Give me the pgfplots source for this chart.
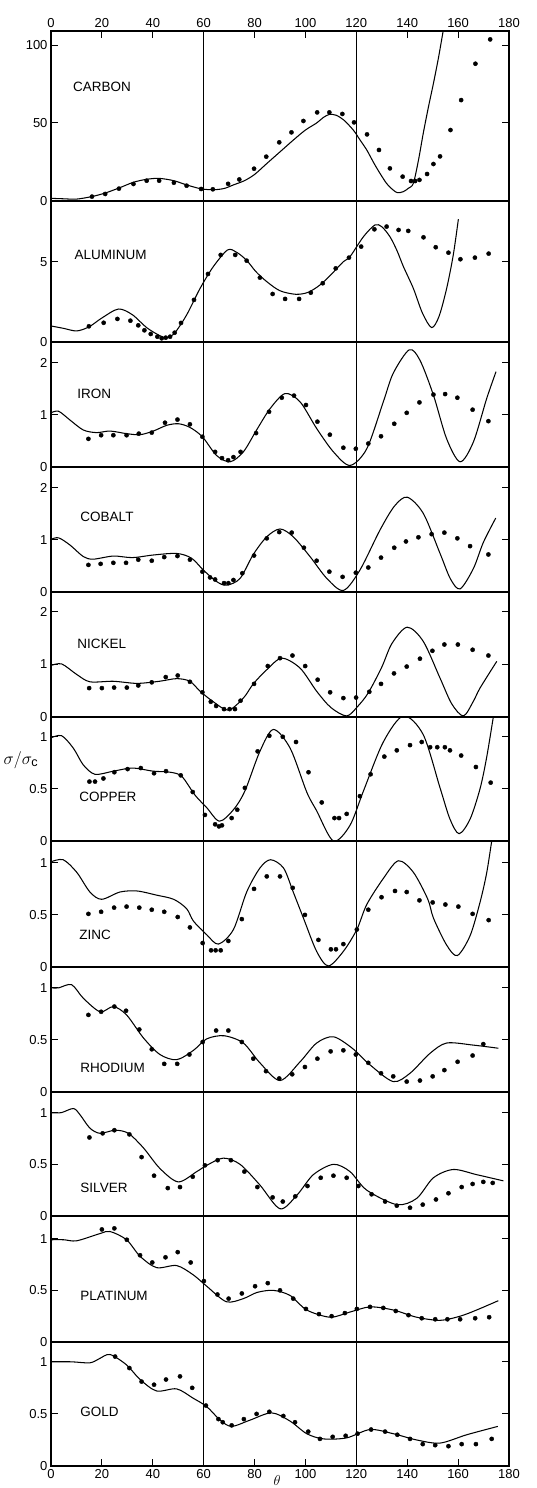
\documentclass[border=0pt]{standalone}
\usepackage{pgfplots}
\pgfplotsset{compat=1.18}
\usepackage{fontspec}
\setmainfont{Liberation Sans}
\begin{document}
\begin{tikzpicture}
\useasboundingbox (0pt,0pt) rectangle (537pt,1488pt);
\tikzset{lab/.style={anchor=west, font=\fontsize{13.5}{13.5}\selectfont}}
\pgfplotsset{
  panel/.style={
    width=458pt, scale only axis, xmin=0, xmax=180, ymin=0,
    anchor=south west,
    axis line style={line width=1.1pt},
    xtick=\empty,
    extra x ticks={60,120}, extra x tick labels={},
    extra x tick style={grid=major, major tick length=0pt},
    major grid style={black, line width=0.9pt},
    tick style={black, line width=1pt}, major tick length=7pt,
    yticklabel style={font=\fontsize{13}{13}\selectfont},
    xticklabel style={font=\fontsize{13}{13}\selectfont},
    /pgf/number format/assume math mode=true,
  },
  curve/.style={black, line width=1.05pt, smooth, tension=0.5, no marks},
  pts/.style={black, only marks, mark=*, mark size=2.1pt, mark options={fill=black}},
}
% ---------------- CARBON ----------------
\begin{axis}[panel, at={(51pt,1287pt)}, height=170pt, ymax=109,
  ytick={0,50,100}, yticklabels={0,50,100},
  xtick={0,20,...,180}, xtick pos=right, xticklabel pos=right]
\addplot[curve] coordinates {(0,1.7)(5,1.4)(10,1.2)(16,2.8)(21.3,5.1)(26.7,8.3)(32.4,12)(37.6,13.9)(42.5,14.5)(48.3,13)(53.3,10.3)(59,7.8)(63.8,7.2)(68,8)(71.7,10.3)(76,13)(80,17)(84.8,24)(90,31.5)(95.2,39)(100,45.5)(104.4,50)(107,53.5)(109.4,55.5)(112,55)(115,52)(118.8,45.5)(121.5,39)(124.1,32.7)(127,24)(129.3,17.7)(132,11)(134.5,7)(136.2,5.3)(138.5,6)(140.5,8.2)(142.4,11.3)(144.4,26)(146.3,43.4)(148.3,60)(150.3,75.4)(152.3,92)(154.2,109.6)(156,125)};
\addplot[pts] coordinates {(16.1,2.8)(21.3,4.5)(26.7,7.9)(32.4,10.9)(37.6,13)(42.5,13)(48.3,11.7)(53.3,9.8)(59,7.7)(63.6,7.5)(69.6,11)(74,13.8)(79.8,20.7)(84.6,28.4)(89.7,37.6)(94.5,44)(99.2,51.3)(104.6,56.8)(109.4,56.8)(114.5,55.8)(119.1,50.4)(124.2,42.7)(128.9,32.7)(133.2,20.9)(138.2,15.6)(141.5,12.8)(143.1,12.8)(144.8,13.5)(147.8,17.3)(150.3,23.7)(152.9,28.6)(157,45.5)(161.2,64.7)(166.8,88)(172.6,103.6)};
\node[lab] at (axis cs:7.3,73) {CARBON};
\end{axis}
% ---------------- ALUMINUM ----------------
\begin{axis}[panel, at={(51pt,1146pt)}, height=141pt, ymax=8.81,
  ytick={0,5}, yticklabels={0,5}]
\addplot[curve] coordinates {(0,1.0)(5,0.85)(10.1,0.69)(15,0.95)(20,1.5)(26.5,2.06)(32,1.7)(38,0.85)(44.8,0.27)(48.5,0.55)(53.3,1.69)(58.6,3.35)(63.8,4.71)(69.4,5.75)(73,5.6)(76.9,5.1)(80.5,4.4)(84.8,3.77)(90,3.2)(96.2,2.98)(101,3.1)(105.7,3.56)(110,4.2)(114.9,5.02)(117.5,5.33)(122.8,6.58)(127.3,7.31)(130,7.2)(133.2,6.58)(136,5.7)(138.5,4.71)(142.4,3.35)(146,1.8)(149.6,0.9)(152.5,1.6)(155.5,3.35)(158.1,5.44)(160.1,7.67)};
\addplot[pts] coordinates {(14.9,0.98)(20.7,1.2)(26.1,1.44)(31.2,1.33)(34.3,1.04)(36.7,0.73)(39.2,0.5)(41.8,0.33)(43.5,0.23)(45.1,0.27)(46.8,0.33)(48.6,0.58)(51.1,1.19)(56.2,2.63)(61.7,4.25)(66.7,5.44)(72.4,5.44)(76.9,5.08)(82.1,4.02)(87.1,3.0)(92,2.69)(97.5,2.69)(102.1,3.08)(106.8,3.67)(111.9,4.6)(117.1,5.27)(121.9,5.96)(127.1,7.04)(131.9,7.21)(136.6,7.0)(140.4,6.94)(146.4,6.54)(151.2,5.92)(156.2,5.58)(160.9,5.17)(166.6,5.27)(172,5.52)};
\node[lab] at (axis cs:7.9,5.44) {ALUMINUM};
\end{axis}
% ---------------- IRON ----------------
\begin{axis}[panel, at={(51pt,1021pt)}, height=125pt, ymax=2.40,
  ytick={0,1,2}, yticklabels={0,1,2}]
\addplot[curve] coordinates {(0,1.04)(3,1.07)(7.5,0.9)(12.7,0.71)(17.9,0.66)(23.2,0.69)(29.7,0.64)(35,0.62)(40.2,0.69)(45.5,0.80)(50.1,0.83)(54.6,0.76)(59.5,0.58)(65.1,0.22)(70.4,0.1)(75.6,0.29)(80.8,0.71)(86.1,1.12)(92,1.41)(97.9,1.25)(104.4,0.74)(111,0.29)(117.5,0.03)(124.1,0.35)(130.6,1.25)(134.5,1.8)(140.8,2.25)(145,2.05)(150.3,1.38)(155.5,0.54)(160.8,0.1)(166,0.48)(171.2,1.31)(174.9,1.83)};
\addplot[pts] coordinates {(14.7,0.54)(19.7,0.61)(24.5,0.61)(29.7,0.61)(34.5,0.64)(39.6,0.66)(44.8,0.85)(49.7,0.91)(54.6,0.82)(59.5,0.58)(64.5,0.29)(67.2,0.17)(69.6,0.13)(71.7,0.19)(74.5,0.29)(80.6,0.65)(85.7,1.06)(90.7,1.33)(95.5,1.37)(100.2,1.19)(104.7,0.87)(109.6,0.62)(114.9,0.37)(119.8,0.35)(124.7,0.45)(129.7,0.59)(134.9,0.83)(139.8,1.04)(144.8,1.24)(150.3,1.39)(154.9,1.40)(159.7,1.33)(165.7,1.10)(171.9,0.88)};
\node[lab] at (axis cs:9,1.40) {IRON};
\end{axis}
% ---------------- COBALT ----------------
\begin{axis}[panel, at={(51pt,896pt)}, height=125pt, ymax=2.40,
  ytick={0,1,2}, yticklabels={0,1,2}]
\addplot[curve] coordinates {(0,1.01)(3,1.04)(7.5,0.9)(12.7,0.68)(16.6,0.63)(24.5,0.69)(32,0.66)(40.2,0.71)(49.4,0.74)(55.2,0.65)(59.9,0.42)(65.1,0.2)(69,0.13)(74.3,0.26)(79.5,0.72)(84.8,1.06)(90,1.21)(95.2,1.06)(101.8,0.68)(108.4,0.26)(114.9,0.03)(121.4,0.42)(129.3,1.19)(135,1.65)(140,1.82)(146.3,1.51)(152.9,0.74)(157,0.25)(160.8,0.06)(166,0.45)(169.9,0.95)(174.8,1.42)};
\addplot[pts] coordinates {(14.7,0.52)(19.5,0.54)(24.5,0.56)(29.5,0.56)(34.3,0.62)(39.6,0.6)(44.5,0.67)(49.7,0.69)(54.6,0.62)(59.5,0.39)(62.5,0.28)(64.5,0.24)(68,0.17)(69.7,0.17)(71.7,0.23)(75.2,0.36)(79.8,0.70)(84.8,1.03)(89.7,1.15)(94.6,1.14)(99.4,0.85)(104.4,0.60)(109.4,0.39)(114.6,0.29)(119.8,0.37)(124.7,0.47)(129.7,0.66)(134.9,0.85)(139.5,0.97)(144.4,1.05)(149.6,1.11)(154.6,1.14)(159.7,1.03)(164.7,0.88)(171.9,0.72)};
\node[lab] at (axis cs:10.2,1.44) {COBALT};
\end{axis}
% ---------------- NICKEL ----------------
\begin{axis}[panel, at={(51pt,771pt)}, height=125pt, ymax=2.38,
  ytick={0,1,2}, yticklabels={0,1,2}]
\addplot[curve] coordinates {(0,0.98)(4.2,1.01)(10.1,0.81)(15.3,0.67)(24.5,0.68)(33.8,0.64)(42.6,0.68)(49.4,0.73)(54.6,0.68)(58.6,0.49)(63.8,0.29)(69.7,0.13)(75.6,0.36)(79.5,0.63)(84.8,0.90)(90.7,1.12)(97.9,0.93)(104.4,0.49)(110,0.18)(116.2,0.02)(120.5,0.2)(124.7,0.46)(130,0.95)(134,1.4)(140,1.71)(146.3,1.44)(152.9,0.74)(157.5,0.25)(162.1,0.02)(166,0.3)(168.6,0.55)(175.2,1.06)};
\addplot[pts] coordinates {(15,0.55)(20,0.55)(24.8,0.56)(29.8,0.56)(34.3,0.6)(39.6,0.66)(45.1,0.76)(49.8,0.79)(54.6,0.67)(59.5,0.47)(62.8,0.29)(64.9,0.21)(68,0.15)(70.2,0.15)(72.3,0.15)(74.5,0.31)(79.8,0.63)(85.2,0.97)(90,1.12)(94.9,1.17)(99.9,0.97)(104.8,0.71)(109.7,0.47)(114.9,0.36)(119.9,0.37)(125.1,0.48)(129.7,0.63)(134.8,0.83)(139.8,0.96)(145,1.11)(149.9,1.26)(154.6,1.38)(159.9,1.38)(165.7,1.28)(171.9,1.17)};
\node[lab] at (axis cs:9,1.39) {NICKEL};
\end{axis}
% ---------------- COPPER ----------------
\begin{axis}[panel, at={(51pt,647pt)}, height=124pt, ymax=1.19,
  ytick={0,0.5,1}, yticklabels={0,0.5,1}]
\addplot[curve] coordinates {(0,0.99)(4.2,1.01)(8.8,0.89)(12.7,0.73)(17.3,0.64)(24.5,0.67)(32,0.70)(40.2,0.67)(46.8,0.66)(51.4,0.62)(56.6,0.44)(61.2,0.32)(66.2,0.19)(71.7,0.30)(76.2,0.48)(82.1,0.86)(87.4,1.07)(94,0.89)(100.5,0.47)(104.4,0.29)(111,0.0)(117.5,0.15)(122.8,0.48)(130.6,0.95)(138.5,1.2)(146.3,1.02)(152.9,0.51)(156.8,0.21)(160.4,0.07)(164.7,0.21)(168.6,0.5)(171.2,0.8)(173.9,1.2)};
\addplot[pts] coordinates {(15.1,0.57)(17.3,0.57)(20.6,0.60)(24.9,0.66)(30.1,0.69)(35.3,0.70)(40.5,0.65)(45.2,0.67)(51,0.63)(55.7,0.47)(60.5,0.25)(64.5,0.16)(66,0.14)(67.2,0.15)(71,0.22)(73.2,0.30)(76.2,0.51)(81.2,0.86)(85.8,1.01)(91.1,1.0)(96.3,0.95)(101.2,0.66)(106.4,0.37)(111.4,0.22)(113.2,0.22)(116.2,0.26)(121.4,0.43)(125.6,0.64)(131,0.81)(135.9,0.87)(141.1,0.92)(145.7,0.95)(149,0.90)(151.8,0.90)(154.8,0.90)(156.8,0.87)(161.2,0.82)(167,0.71)(172.8,0.56)};
\node[lab] at (axis cs:9.8,0.42) {COPPER};
\end{axis}
% ---------------- ZINC ----------------
\begin{axis}[panel, at={(51pt,521pt)}, height=126pt, ymax=1.21,
  ytick={0,0.5,1}, yticklabels={0,0.5,1}]
\addplot[curve] coordinates {(0,1.01)(4.8,1.03)(10.1,0.91)(15.3,0.72)(19.9,0.65)(27.1,0.72)(33.8,0.73)(41.5,0.69)(48.2,0.65)(53.3,0.56)(56,0.44)(61.2,0.31)(65.8,0.22)(71.7,0.36)(76.9,0.72)(82.1,0.95)(86.3,1.03)(91.4,0.95)(95.2,0.72)(99.2,0.47)(104.4,0.15)(109,0.01)(114.9,0.15)(120.2,0.36)(124.1,0.60)(130.6,0.85)(136.5,1.02)(142.4,0.91)(148.1,0.65)(150.3,0.47)(155.5,0.21)(159.7,0.11)(164.7,0.3)(168.6,0.62)(171.2,0.9)(173.2,1.21)};
\addplot[pts] coordinates {(14.7,0.51)(19.7,0.53)(24.8,0.57)(29.7,0.58)(34.7,0.57)(39.6,0.55)(44.5,0.53)(49.8,0.48)(54.6,0.38)(59.6,0.23)(62.9,0.16)(64.7,0.16)(66.7,0.16)(69.7,0.25)(75,0.46)(79.8,0.75)(84.8,0.87)(90,0.87)(95,0.76)(99.8,0.50)(105.1,0.26)(110,0.17)(112,0.17)(114.9,0.22)(120.2,0.36)(124.7,0.55)(129.9,0.67)(135.2,0.73)(139.8,0.72)(144.8,0.64)(150,0.62)(155,0.60)(160.1,0.58)(165.7,0.51)(172,0.45)};
\node[lab] at (axis cs:9.8,0.31) {ZINC};
\end{axis}
% ---------------- RHODIUM ----------------
\begin{axis}[panel, at={(51pt,396pt)}, height=125pt, ymax=1.20,
  ytick={0,0.5,1}, yticklabels={0,0.5,1}]
\addplot[curve] coordinates {(0,1.0)(3,1.0)(8.1,1.03)(12.7,0.9)(19.3,0.77)(24.5,0.82)(29.7,0.74)(36.3,0.52)(42.8,0.36)(49.4,0.31)(56,0.40)(61.2,0.51)(68,0.54)(75.6,0.47)(82.1,0.28)(90,0.11)(97.9,0.29)(104.4,0.47)(111,0.53)(118.4,0.42)(125.4,0.26)(134.5,0.10)(141.1,0.18)(148.9,0.37)(155.5,0.47)(166,0.45)(175.8,0.42)};
\addplot[pts] coordinates {(14.7,0.74)(19.7,0.77)(24.9,0.82)(29.5,0.78)(34.7,0.60)(39.6,0.41)(44.5,0.27)(49.6,0.27)(54.4,0.36)(59.6,0.48)(64.9,0.59)(69.7,0.59)(75,0.48)(79.5,0.32)(84.5,0.20)(89.7,0.13)(94.8,0.17)(99.8,0.24)(104.7,0.32)(109.9,0.39)(114.9,0.40)(119.8,0.36)(124.7,0.28)(129.7,0.18)(134.5,0.15)(139.8,0.10)(145,0.11)(150,0.15)(154.6,0.21)(159.8,0.29)(165.7,0.35)(169.9,0.46)};
\node[lab] at (axis cs:10.2,0.23) {RHODIUM};
\end{axis}
% ---------------- SILVER ----------------
\begin{axis}[panel, at={(51pt,272pt)}, height=124pt, ymax=1.20,
  ytick={0,0.5,1}, yticklabels={0,0.5,1}]
\addplot[curve] coordinates {(0,1.0)(4,1.0)(8.8,1.04)(11.4,0.98)(15.3,0.85)(19.3,0.80)(25.2,0.83)(30.4,0.80)(36.3,0.66)(42.8,0.46)(50,0.33)(57.3,0.43)(61.2,0.49)(67.7,0.56)(74.3,0.50)(82.1,0.30)(90,0.07)(96.6,0.20)(103.1,0.40)(111,0.50)(117.5,0.43)(124.1,0.25)(135.9,0.11)(143.7,0.17)(150.3,0.37)(158.1,0.45)(167.3,0.40)(177.8,0.34)};
\addplot[pts] coordinates {(15.1,0.76)(20.3,0.80)(24.9,0.83)(30.8,0.79)(35.6,0.57)(40.5,0.39)(45.9,0.27)(50.7,0.28)(55.7,0.38)(60.5,0.49)(65.5,0.54)(70.7,0.54)(76,0.43)(81.1,0.28)(87.1,0.18)(91.1,0.14)(96,0.19)(100.8,0.29)(106,0.37)(111,0.39)(116.2,0.37)(120.8,0.29)(126,0.21)(131.3,0.14)(135.9,0.10)(141.1,0.08)(146.1,0.11)(151.3,0.16)(156.2,0.22)(161.4,0.28)(165.7,0.31)(169.9,0.33)(173.6,0.32)};
\node[lab] at (axis cs:10.2,0.27) {SILVER};
\end{axis}
% ---------------- PLATINUM ----------------
\begin{axis}[panel, at={(51pt,146pt)}, height=126pt, ymax=1.22,
  ytick={0,0.5,1}, yticklabels={0,0.5,1}]
\addplot[curve] coordinates {(0,0.99)(5,0.99)(10.1,0.98)(19.3,1.05)(23.2,1.07)(29.7,0.99)(35,0.83)(41.5,0.72)(49.4,0.74)(55.9,0.65)(61.2,0.54)(68.9,0.39)(75.6,0.42)(81,0.48)(87.4,0.50)(94,0.45)(100.5,0.31)(109.7,0.24)(117.5,0.29)(125.4,0.34)(134.5,0.31)(143.7,0.24)(152.9,0.21)(160.8,0.25)(167.3,0.31)(175.8,0.40)};
\addplot[pts] coordinates {(20,1.09)(24.9,1.10)(29.8,0.99)(35,0.84)(39.8,0.77)(45,0.82)(49.8,0.87)(54.9,0.77)(60.1,0.59)(65.4,0.46)(69.8,0.42)(75,0.47)(80.2,0.54)(85.2,0.57)(90,0.50)(95.2,0.42)(100.2,0.32)(105.3,0.27)(110.3,0.25)(115.5,0.28)(120.2,0.32)(125.4,0.34)(130.6,0.33)(135.5,0.30)(140.5,0.26)(145.7,0.23)(151,0.22)(155.8,0.22)(160.8,0.22)(166.7,0.23)(172.2,0.24)};
\node[lab] at (axis cs:10.2,0.45) {PLATINUM};
\end{axis}
% ---------------- GOLD ----------------
\begin{axis}[panel, at={(51pt,22pt)}, height=124pt, ymax=1.19,
  ytick={0,0.5,1}, yticklabels={0,0.5,1},
  xtick={0,20,...,180}, xtick pos=left, xticklabel pos=left]
\addplot[curve] coordinates {(0,1.0)(8,1.0)(15.3,0.99)(19,1.03)(23.2,1.07)(29.7,0.97)(35,0.83)(41.5,0.72)(49.4,0.74)(55.9,0.65)(61.2,0.57)(66.5,0.44)(71,0.38)(78.2,0.44)(86.7,0.51)(94,0.43)(100.5,0.31)(107.1,0.26)(116.2,0.27)(125.4,0.35)(134.5,0.31)(143.7,0.25)(152.9,0.22)(163.4,0.30)(175.6,0.38)};
\addplot[pts] coordinates {(25.2,1.05)(30.8,0.94)(35.6,0.81)(40.5,0.78)(45.2,0.83)(50.7,0.86)(55.5,0.75)(60.9,0.58)(65.8,0.45)(67.5,0.42)(71,0.39)(75.8,0.45)(80.8,0.50)(85.8,0.52)(91.3,0.48)(95.9,0.42)(101.1,0.33)(105.7,0.26)(110.7,0.28)(115.8,0.29)(120.5,0.31)(125.8,0.35)(131.3,0.33)(136.1,0.30)(141.1,0.26)(146.1,0.21)(151,0.20)(156.2,0.19)(161.4,0.21)(167,0.21)(173.2,0.26)};
\node[lab] at (axis cs:10.2,0.52) {GOLD};
\end{axis}
\node at (21pt,728pt) {\fontsize{18}{18}\selectfont $\sigma/\sigma_{\mathrm{c}}$};
\node at (277pt,7.5pt) {\fontsize{14}{14}\selectfont $\theta$};
\end{tikzpicture}
\end{document}
